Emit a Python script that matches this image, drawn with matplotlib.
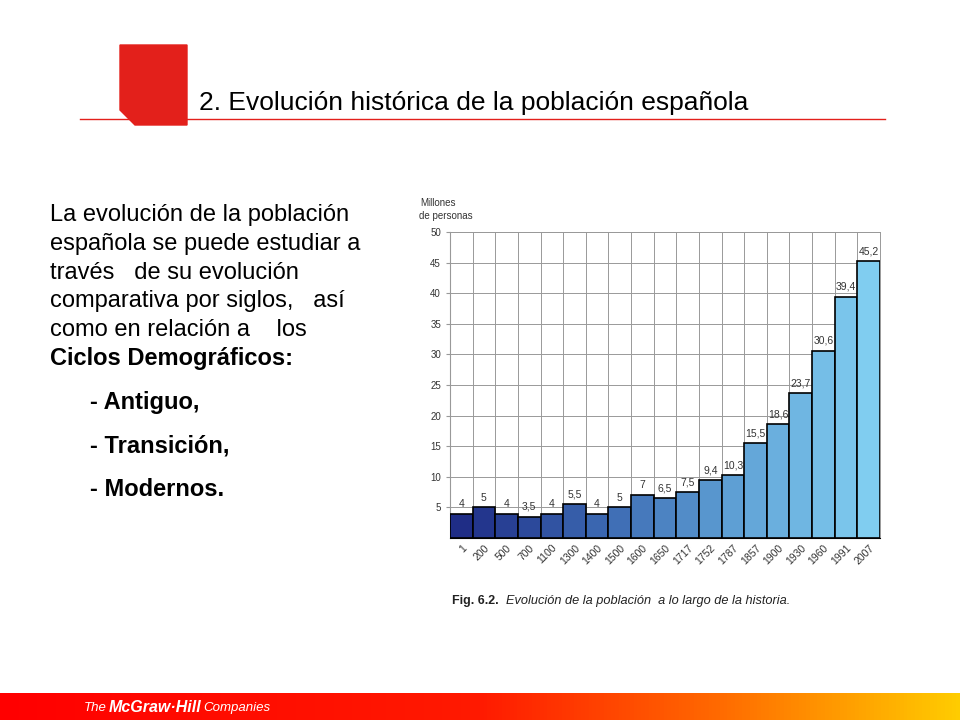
import matplotlib
matplotlib.use("Agg")
import matplotlib.pyplot as plt
import numpy as np
from matplotlib.colors import LinearSegmentedColormap

years = ["1","200","500","700","1100","1300","1400","1500","1600","1650","1717","1752","1787","1857","1900","1930","1960","1991","2007"]
values = [4,5,4,3.5,4,5.5,4,5,7,6.5,7.5,9.4,10.3,15.5,18.6,23.7,30.6,39.4,45.2]
labels = ["4","5","4","3,5","4","5,5","4","5","7","6,5","7,5","9,4","10,3","15,5","18,6","23,7","30,6","39,4","45,2"]
yticks = [5,10,15,20,25,30,35,40,45,50]

W, H = 960, 720
fig = plt.figure(figsize=(9.6, 7.2), dpi=100)
fig.patch.set_facecolor("white")

bg = fig.add_axes([0, 0, 1, 1])
bg.set_xlim(0, W); bg.set_ylim(H, 0); bg.axis("off")
bg.add_patch(plt.Polygon([[120,45],[187,45],[187,125],[135,125],[120,110]], closed=True, color="#e3201b", zorder=1))
bg.plot([80, 885], [119, 119], color="#e3201b", lw=1, zorder=2)
bg.text(199, 103, "2. Evolución histórica de la población española", fontsize=19, family="Liberation Sans", va="center", ha="left", color="black", zorder=3)

txt = ["La evolución de la población", "española se puede estudiar a", "través   de su evolución",
       "comparativa por siglos,   así", "como en relación a    los"]
for i, t in enumerate(txt):
    bg.text(50, 215 + i*28.8, t, fontsize=17, family="Liberation Sans", va="center")
bg.text(50, 359, "Ciclos Demográficos:", fontsize=17, family="Liberation Sans", weight="bold", va="center")
for i, t in enumerate(["- Antiguo,", "- Transición,", "- Modernos."]):
    bg.text(90, 402 + i*44, t, fontsize=17, family="Liberation Sans", weight="bold", va="center")

bg.text(420, 203, "Millones", fontsize=7, family="Liberation Sans", va="center", color="#333")
bg.text(419, 216, "de personas", fontsize=7, family="Liberation Sans", va="center", color="#333")
bg.text(452, 601, "Fig. 6.2.", fontsize=9, family="Liberation Sans", weight="bold", va="center", color="#222")
bg.text(506, 601, "Evolución de la población  a lo largo de la historia.", fontsize=9.2, family="Liberation Sans", style="italic", va="center", color="#222")

grad = np.linspace(0, 1, 256).reshape(1, -1)
fcm = LinearSegmentedColormap.from_list("f", [(0, "#ff0000"), (0.5, "#ff1a00"), (0.75, "#ff6a00"), (1, "#ffcc00")])
bg.imshow(grad, extent=[0, W, 720, 693], aspect="auto", cmap=fcm, zorder=0)
bg.set_xlim(0, W); bg.set_ylim(H, 0)
bg.text(84, 708, "The", fontsize=9.5, color="white", style="italic", va="center", family="Liberation Sans")
bg.text(109, 708, "McGraw·Hill", fontsize=11.5, color="white", weight="bold", style="italic", va="center", family="Liberation Sans")
bg.text(203, 708, "Companies", fontsize=9.5, color="white", style="italic", va="center", family="Liberation Sans")

ax = fig.add_axes([450/W, 1-538/H, (880-450)/W, (538-232)/H])
n = len(values)
cmap = LinearSegmentedColormap.from_list("b", ["#1f2d86", "#3a66b0", "#5e9fd4", "#80cdf0"])
colors = [cmap(i/(n-1)) for i in range(n)]
x = np.arange(n)
ax.bar(x, values, width=1.0, color=colors, edgecolor="black", linewidth=1.2, zorder=3)
for xi, v, l in zip(x, values, labels):
    ax.text(xi, v + 0.8, l, ha="center", va="bottom", fontsize=7.5, color="#333", family="Liberation Sans")
ax.set_xlim(-0.5, n-0.5)
ax.set_ylim(0, 50)
ax.set_yticks(yticks)
ax.set_yticklabels([str(t) for t in yticks], fontsize=7, color="#333", family="Liberation Sans")
ax.set_xticks(x)
ax.set_xticklabels(years, rotation=45, ha="right", rotation_mode="anchor", fontsize=7.5, color="#333", family="Liberation Sans")
ax.set_xticks(np.arange(-0.5, n, 1), minor=True)
ax.grid(True, which="minor", axis="x", color="#999", lw=0.7, zorder=0)
ax.grid(True, which="major", axis="y", color="#999", lw=0.7, zorder=0)
ax.tick_params(axis="x", which="both", length=0)
ax.tick_params(axis="y", length=3, color="#999")
for s in ["top", "right"]:
    ax.spines[s].set_color("#999"); ax.spines[s].set_linewidth(0.7)
ax.spines["left"].set_color("#999")
ax.spines["bottom"].set_color("black")
ax.set_facecolor("white")

fig.savefig("out.png", dpi=100)
